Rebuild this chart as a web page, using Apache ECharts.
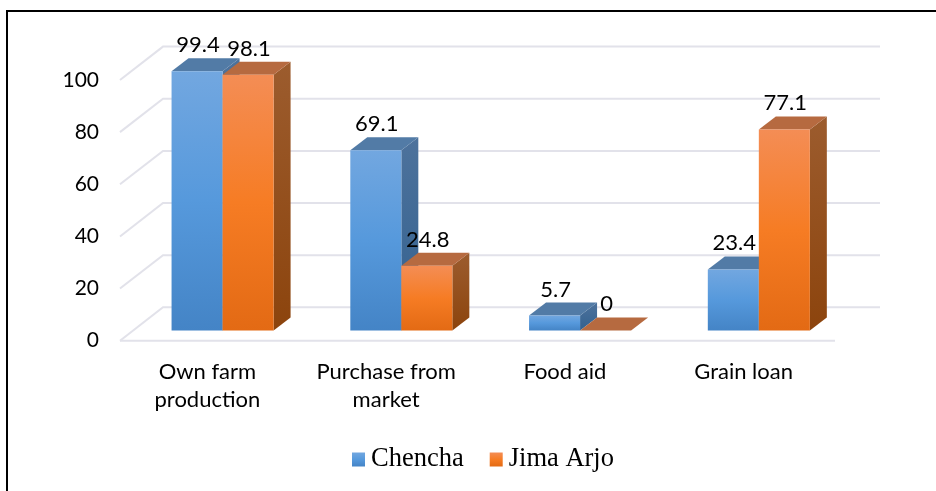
<!DOCTYPE html>
<html>
<head>
<meta charset="utf-8">
<style>html,body{margin:0;padding:0;background:#fff}#c{width:936px;height:491px}</style>
<script src="https://cdn.jsdelivr.net/npm/echarts@6/dist/echarts.min.js"></script>
</head>
<body>
<div id="c"></div>
<script>
var categories = ['Own farm\nproduction', 'Purchase from\nmarket', 'Food aid', 'Grain loan'];
var chencha = [99.4, 69.1, 5.7, 23.4];
var jimaArjo = [98.1, 24.8, 0, 77.1];
var yTicks = [0, 20, 40, 60, 80, 100];

// 3D projection constants (pixels)
var WALL = [43, -33.4];   // floor front edge -> back wall
var PLANE = [13.2, -10.3]; // floor front edge -> bar front face
var DEPTH = [17, -13];    // bar front face -> bar back face
var BAR_FRACTION = 0.2854;

function grad(stops) {
  return new echarts.graphic.LinearGradient(0, 0, 0, 1, stops.map(function (c, i) {
    return { offset: i / (stops.length - 1), color: c };
  }));
}
var palettes = {
  blue: { front: ['#72a7e0', '#5699dc', '#4484c6'], top: '#527ba6', side: ['#4d729c', '#33618f'] },
  orange: { front: ['#f48d55', '#f67c24', '#e36a14'], top: '#b66a40', side: ['#9c5c2e', '#8c440d'] }
};

function barRenderer(paletteName, seriesIndex) {
  var pal = palettes[paletteName];
  return function (params, api) {
    var i = api.value(0), v = api.value(1);
    var top = api.coord([i, v]), base = api.coord([i, 0]);
    var w = api.size([1, 0])[0] * BAR_FRACTION;
    var x0 = top[0] + PLANE[0] + (seriesIndex === 0 ? -w : 0);
    var x1 = x0 + w;
    var yT = top[1] + PLANE[1], yB = base[1] + PLANE[1];
    var dx = DEPTH[0], dy = DEPTH[1];
    var children = [];
    children.push({ type: 'polygon', shape: { points: [[x1, yT], [x1 + dx, yT + dy], [x1 + dx, yB + dy], [x1, yB]] },
      style: { fill: grad(pal.side) } });
    children.push({ type: 'polygon', shape: { points: [[x0, yT], [x0 + dx, yT + dy], [x1 + dx, yT + dy], [x1, yT]] },
      style: { fill: pal.top } });
    if (yB - yT > 0.1) {
      children.push({ type: 'rect', shape: { x: x0, y: yT, width: w, height: yB - yT },
        style: { fill: grad(pal.front) } });
    }
    children.push({ type: 'text', z2: 50, style: {
      text: String(v), x: (x0 + x1) / 2 + 1, y: yT - 26, align: 'center', verticalAlign: 'middle',
      font: '22px Lato', fill: '#000' } });
    return { type: 'group', children: children };
  };
}

function wallRenderer(params, api) {
  var cs = params.coordSys;
  var y = api.coord([0, api.value(0)])[1];
  var xL = cs.x, xR = cs.x + cs.width;
  var lineStyle = { stroke: '#e2e2ea', lineWidth: 2, fill: null };
  var children = [{ type: 'polyline',
    shape: { points: [[xL, y], [xL + WALL[0], y + WALL[1]], [xR + WALL[0] + 2, y + WALL[1]]] },
    style: lineStyle }];
  if (api.value(0) === 0) {
    children.push({ type: 'line', shape: { x1: xL, y1: y, x2: xR, y2: y }, style: lineStyle });
  }
  return { type: 'group', children: children };
}

var chart = echarts.init(document.getElementById('c'), null, { renderer: 'canvas' });
chart.setOption({
  animation: false,
  backgroundColor: '#fff',
  grid: { left: 120, top: 80, width: 715, height: 260.7, containLabel: false },
  xAxis: {
    type: 'category', data: categories,
    axisLine: { show: false }, axisTick: { show: false }, splitLine: { show: false },
    axisLabel: { interval: 0, margin: 17, color: '#000', fontFamily: 'Lato', fontSize: 22, lineHeight: 28, padding: [0, 4, 0, 0] }
  },
  yAxis: {
    type: 'value', min: 0, max: 100, interval: 20,
    axisLine: { show: false }, axisTick: { show: false }, splitLine: { show: false },
    axisLabel: { margin: 21, color: '#000', fontFamily: 'Lato', fontSize: 21, padding: [2, 0, 0, 0] }
  },
  legend: {
    left: 347, top: 441, itemWidth: 13, itemHeight: 14, itemGap: 26, icon: 'rect',
    data: ['Chencha', 'Jima Arjo'],
    textStyle: { fontFamily: 'Liberation Serif', fontSize: 26.5, color: '#000', padding: [0, 0, 0, 1] }
  },
  graphic: [
    { type: 'polyline', silent: true, z: 100, shape: { points: [[7, 491], [7, 11], [936, 11]] },
      style: { stroke: '#000', lineWidth: 2, fill: null } }
  ],
  series: [
    { type: 'custom', name: 'wall', silent: true, z: 1, renderItem: wallRenderer,
      data: yTicks.map(function (t) { return [t]; }), encode: { y: 0 } },
    { type: 'custom', name: 'Chencha', z: 2, renderItem: barRenderer('blue', 0),
      itemStyle: { color: grad(palettes.blue.front) },
      data: chencha.map(function (v, i) { return [i, v]; }), encode: { x: 0, y: 1 } },
    { type: 'custom', name: 'Jima Arjo', z: 3, renderItem: barRenderer('orange', 1),
      itemStyle: { color: grad(palettes.orange.front) },
      data: jimaArjo.map(function (v, i) { return [i, v]; }), encode: { x: 0, y: 1 } }
  ]
});
</script>
</body>
</html>
